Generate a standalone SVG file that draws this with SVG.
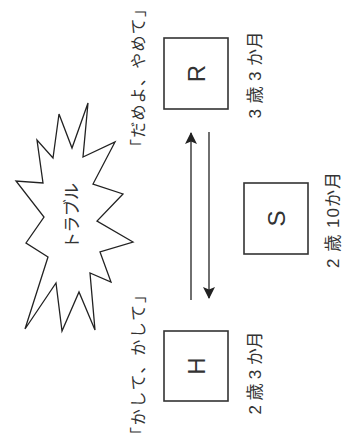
<svg xmlns="http://www.w3.org/2000/svg" width="342" height="444" viewBox="0 0 342 444">
<style>
.box{fill:#fff;stroke:#333;stroke-width:1.6}
.t{font-family:"Liberation Sans","Noto Sans CJK JP",sans-serif;fill:#333;text-anchor:middle;dominant-baseline:central}
.big{font-size:24px}
.lab{font-size:17px}
.q{font-size:16px}
.ln{stroke:#333;stroke-width:1.4;fill:none}
.star{fill:#fff;stroke:#222;stroke-width:1.3;stroke-linejoin:miter}
</style>
<defs>
<marker id="ah" markerUnits="userSpaceOnUse" markerWidth="12" markerHeight="12" viewBox="0 0 12 12" refX="11" refY="6" orient="auto">
<path d="M0,0 L12,6 L0,12 L2.5,6 Z" fill="#222"/>
</marker>
</defs>
<g id="trouble">
<polygon class="star" points="88,103 83,157 115,142 93,184 123,194 97,221 133,242 100,252 111,282 90,273 95,330 79,292 62,331 56,283 25,329 48,257 26,243 44,217 16,181 43,183 37,140 53,158 59,114 72,148"/>
<text class="t lab" transform="translate(72,216) rotate(-90)" textLength="66" lengthAdjust="spacing">トラブル</text>
</g>
<g id="R">
<rect class="box" x="164" y="38" width="64" height="71"/>
<text class="t big" transform="translate(196,73.5) rotate(-90)">R</text>
</g>
<g id="S">
<rect class="box" x="244" y="183" width="64" height="71"/>
<text class="t big" transform="translate(276,218.5) rotate(-90)">S</text>
</g>
<g id="H">
<rect class="box" x="164" y="331" width="64" height="70"/>
<text class="t big" transform="translate(196,366) rotate(-90)">H</text>
</g>
<g id="labels">
<text class="t q" transform="translate(138,78) rotate(-90)" textLength="154" lengthAdjust="spacing">「だめよ、やめて」</text>
<text class="t q" transform="translate(138,365) rotate(-90)" textLength="156" lengthAdjust="spacing">「かして、かして」</text>
<text class="t lab" transform="translate(255,75) rotate(-90)" textLength="87" lengthAdjust="spacing">3 歳 3 か月</text>
<text class="t lab" transform="translate(255,373) rotate(-90)" textLength="83" lengthAdjust="spacing">2 歳 3 か月</text>
<text class="t lab" transform="translate(333,220) rotate(-90)" textLength="96" lengthAdjust="spacing">2 歳 10か月</text>
</g>
<g id="connectors">
<line class="ln" x1="191" y1="300" x2="191" y2="133" marker-end="url(#ah)"/>
<line class="ln" x1="209" y1="132" x2="209" y2="298" marker-end="url(#ah)"/>
</g>
</svg>
